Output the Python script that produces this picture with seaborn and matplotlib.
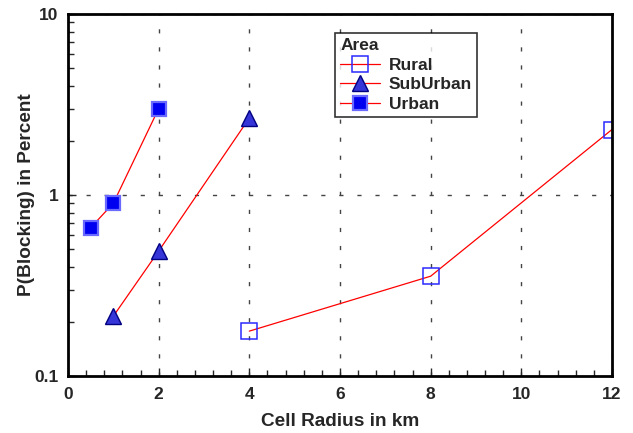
import matplotlib
matplotlib.use("Agg")
import matplotlib.pyplot as plt
import seaborn as sns
from matplotlib.ticker import MultipleLocator, LogLocator, NullFormatter, FixedLocator

rural_x = [4, 8, 12]
rural_y = [0.177, 0.356, 2.3]
suburban_x = [1, 2, 4]
suburban_y = [0.214, 0.49, 2.66]
urban_x = [0.5, 1, 2]
urban_y = [0.66, 0.90, 3.0]

sns.set_style("white")
plt.rcParams['font.family'] = ['Liberation Sans', 'DejaVu Sans']
plt.rcParams['font.weight'] = 'bold'

fig = plt.figure(figsize=(6.33, 4.33), dpi=100)
ax = fig.add_axes([0.1074, 0.1316, 0.8594, 0.8361])

sns.lineplot(x=rural_x, y=rural_y, ax=ax, color="red", lw=0.9, marker="s",
             markersize=11, markerfacecolor="none", markeredgecolor="#2a2aff",
             markeredgewidth=1.1, label="Rural")
sns.lineplot(x=suburban_x, y=suburban_y, ax=ax, color="red", lw=0.9, marker="^",
             markersize=12, markerfacecolor="#3535d8", markeredgecolor="#000080",
             markeredgewidth=1.0, label="SubUrban")
sns.lineplot(x=urban_x, y=urban_y, ax=ax, color="red", lw=0.9, marker="s",
             markersize=10.5, markerfacecolor="#0000f0", markeredgecolor="#6a6aff",
             markeredgewidth=1.6, label="Urban")

ax.set_yscale("log")
ax.set_xlim(0, 12)
ax.set_ylim(0.1, 10)
ax.xaxis.set_major_locator(MultipleLocator(2))
ax.xaxis.set_minor_locator(MultipleLocator(0.4))
ax.yaxis.set_major_locator(FixedLocator([0.1, 1, 10]))
ax.yaxis.set_major_formatter(plt.FuncFormatter(lambda v, p: f"{v:g}"))
ax.yaxis.set_minor_locator(LogLocator(base=10, subs=range(2, 10)))
ax.yaxis.set_minor_formatter(NullFormatter())

ax.tick_params(which="both", direction="in", top=False, right=False,
               labelsize=12.5, width=1)
ax.tick_params(which="major", length=6, left=True, bottom=True)
ax.tick_params(axis="y", which="major", pad=7)
ax.tick_params(axis="x", which="major", pad=8)
ax.tick_params(which="minor", length=4, left=True, bottom=True)
for lab in ax.get_xticklabels() + ax.get_yticklabels():
    lab.set_fontweight("bold")

ax.grid(True, which="major", color="#444444", linestyle=(0, (3, 10)), lw=1)
ax.grid(False, which="minor")
for s in ax.spines.values():
    s.set_linewidth(2)
    s.set_color("black")

ax.set_xlabel("Cell Radius in km", fontsize=13.7, fontweight="bold", labelpad=8)
ax.set_ylabel("P(Blocking) in Percent", fontsize=13.7, fontweight="bold", labelpad=-1)

leg = ax.legend(title="Area", loc="upper left", bbox_to_anchor=(0.491, 0.9475),
                frameon=True, fancybox=False, edgecolor="black", fontsize=12.5,
                title_fontproperties={"weight": "bold", "size": 12.5},
                borderpad=0.3, labelspacing=0.25, handlelength=2.3,
                handletextpad=0.5, borderaxespad=0)
leg._legend_box.align = "left"
leg.get_frame().set_linewidth(1.2)
for t in leg.get_texts():
    t.set_fontweight("bold")

fig.savefig("out.png", dpi=100)
